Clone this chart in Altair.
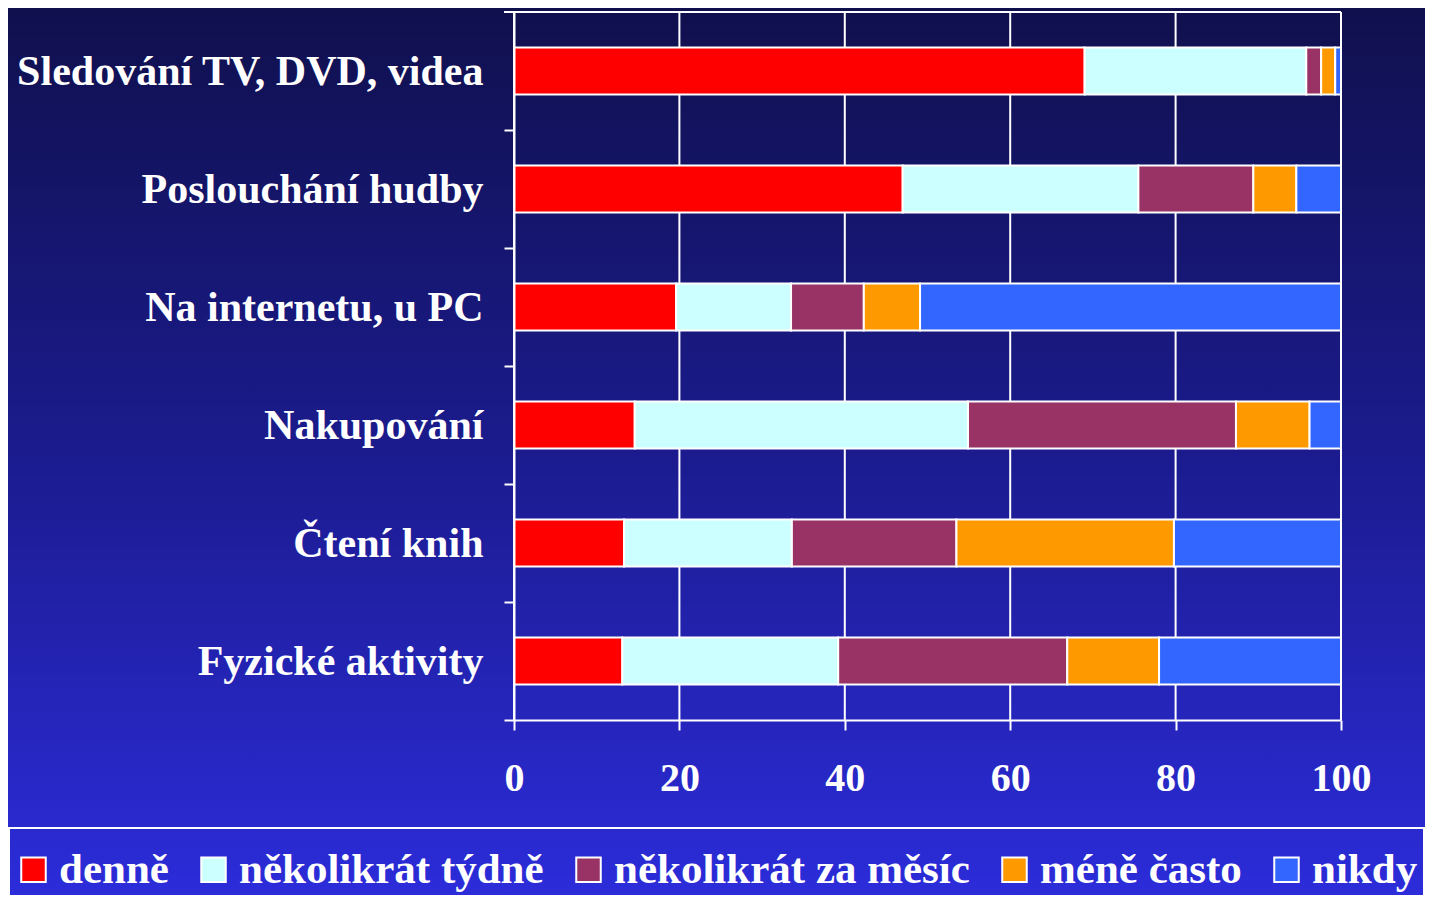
import altair as alt
import pandas as pd

categories = ["Sledování TV, DVD, videa", "Poslouchání hudby", "Na internetu, u PC",
              "Nakupování", "Čtení knih", "Fyzické aktivity"]
series = ["denně", "několikrát týdně", "několikrát za měsíc", "méně často", "nikdy"]
denne = [69.0, 47.0, 19.6, 14.6, 13.3, 13.1]
tydne = [26.8, 28.5, 13.9, 40.3, 20.3, 26.1]
mesic = [1.8, 13.9, 8.8, 32.4, 19.9, 27.7]
mene = [1.7, 5.2, 6.8, 8.9, 26.3, 11.1]
nikdy = [0.7, 5.4, 50.9, 3.8, 20.2, 22.0]
colors = ["#FF0000", "#CCFFFF", "#993366", "#FF9900", "#3366FF"]
x_ticks = [0, 20, 40, 60, 80, 100]

rows = []
for si, (s, vals) in enumerate(zip(series, [denne, tydne, mesic, mene, nikdy])):
    for c, v in zip(categories, vals):
        rows.append({"cat": c, "series": s, "value": v, "idx": si})
df = pd.DataFrame(rows)

W, H = 827, 708
PL, PT, PR, PB = 506, 4, 84, 175
FONT = "Liberation Serif"
STEP = H / len(categories)

grad = alt.Gradient(
    gradient="linear", x1=0, y1=0, x2=0, y2=1,
    stops=[alt.GradientStop(offset=0, color="#10104E"),
           alt.GradientStop(offset=0.5, color="#1B1B8E"),
           alt.GradientStop(offset=1, color="#2C2CDA")],
)

x_scale = alt.Scale(domain=[0, 100], nice=False)
x_axis = alt.Axis(values=x_ticks, title=None, grid=False, zindex=1, labelFlush=False,
                  labelFont=FONT, labelFontWeight="bold", labelFontSize=40,
                  labelColor="white", labelPadding=28,
                  tickColor="white", tickSize=10, tickWidth=2,
                  domainColor="white", domainWidth=2)

bg = alt.Chart(pd.DataFrame({"a": [0]})).mark_rect(fill=grad, strokeWidth=0).encode(
    x=alt.value(-PL), x2=alt.value(W + PR), y=alt.value(-PT), y2=alt.value(H + PB)
)

legend_box = alt.Chart(pd.DataFrame({"a": [0]})).mark_rect(
    fillOpacity=0, stroke="white", strokeWidth=2
).encode(
    x=alt.value(-PL + 1), x2=alt.value(W + PR - 1), y=alt.value(816), y2=alt.value(H + PB + 20)
)

grid = alt.Chart(pd.DataFrame({"v": x_ticks})).mark_rule(color="white", strokeWidth=2).encode(
    x=alt.X("v:Q", scale=x_scale, axis=x_axis)
)

top_line = alt.Chart(pd.DataFrame({"a": [0]})).mark_rule(color="white", strokeWidth=2).encode(
    x=alt.value(-10), x2=alt.value(W), y=alt.value(0)
)

bars = alt.Chart(df).mark_bar(stroke="white", strokeWidth=2, opacity=1).encode(
    x=alt.X("value:Q", stack="zero", scale=x_scale, axis=x_axis),
    y=alt.Y("cat:N", sort=categories,
            scale=alt.Scale(paddingInner=0.6, paddingOuter=0.3),
            axis=alt.Axis(title=None, tickOffset=STEP / 2, labelOffset=-STEP / 2, zindex=1,
                          labelFont=FONT, labelFontWeight="bold", labelFontSize=42,
                          labelColor="white", labelPadding=21, labelLimit=800,
                          tickColor="white", tickSize=10, tickWidth=2,
                          domainColor="white", domainWidth=2)),
    color=alt.Color("series:N", scale=alt.Scale(domain=series, range=colors),
                    legend=alt.Legend(orient="none", legendX=-502, legendY=836,
                                      direction="horizontal", columns=5, title=None,
                                      symbolType="square", symbolSize=600,
                                      symbolStrokeColor="white", symbolStrokeWidth=2,
                                      symbolOpacity=1,
                                      labelFont=FONT, labelFontWeight="bold",
                                      labelFontSize=43, labelColor="white",
                                      labelOffset=4, columnPadding=23, padding=0,
                                      zindex=1, labelLimit=800)),
    order=alt.Order("idx:Q"),
)

chart = alt.layer(bg, legend_box, grid, top_line, bars).properties(
    width=W, height=H,
    autosize=alt.AutoSizeParams(type="none"),
    padding={"left": PL, "top": PT, "right": PR, "bottom": PB},
).configure_view(stroke=None)

chart.save("out.html", embed_options={"renderer": "svg", "actions": False})
